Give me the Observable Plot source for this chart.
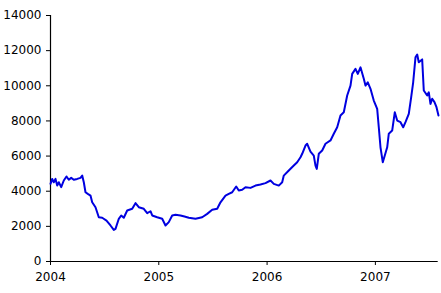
<!DOCTYPE html>
<html>
<head>
<meta charset="utf-8">
<script src="https://cdn.jsdelivr.net/npm/d3@7"></script>
<script src="https://cdn.jsdelivr.net/npm/@observablehq/plot@0.6"></script>
<style>
  html, body { margin: 0; padding: 0; background: #fff; }
</style>
</head>
<body>
<div id="chart"></div>
<script>
// time in decimal years
const times = [
  2004.0000, 2004.0157, 2004.0305, 2004.0462, 2004.0619, 2004.0766, 2004.0988, 2004.1228,
  2004.1477, 2004.1690, 2004.1911, 2004.2151, 2004.2465, 2004.2770, 2004.2927, 2004.3075,
  2004.3232, 2004.3444, 2004.3693, 2004.3850, 2004.4155, 2004.4460, 2004.4774, 2004.5171,
  2004.5540, 2004.5845, 2004.6002, 2004.6307, 2004.6528, 2004.6768, 2004.7082, 2004.7544,
  2004.7849, 2004.8153, 2004.8615, 2004.8929, 2004.9234, 2004.9391, 2004.9852, 2005.0314,
  2005.0619, 2005.0923, 2005.1237, 2005.1542, 2005.2004, 2005.2373, 2005.2770, 2005.3389,
  2005.4007, 2005.4469, 2005.4931, 2005.5392, 2005.5697, 2005.6159, 2005.6464, 2005.6777,
  2005.7147, 2005.7387, 2005.7701, 2005.8006, 2005.8468, 2005.8929, 2005.9391, 2005.9852,
  2006.0314, 2006.0619, 2006.1080, 2006.1394, 2006.1542, 2006.2004, 2006.2465, 2006.2779,
  2006.3084, 2006.3241, 2006.3546, 2006.3703, 2006.4007, 2006.4312, 2006.4469, 2006.4589,
  2006.4774, 2006.5088, 2006.5392, 2006.5854, 2006.6159, 2006.6473, 2006.6777, 2006.7082,
  2006.7396, 2006.7701, 2006.7858, 2006.8163, 2006.8375, 2006.8624, 2006.8929, 2006.9086,
  2006.9298, 2006.9548, 2006.9852, 2007.0166, 2007.0314, 2007.0471, 2007.0683, 2007.0868,
  2007.1090, 2007.1237, 2007.1551, 2007.1791, 2007.2013, 2007.2318, 2007.2567, 2007.2779,
  2007.3084, 2007.3306, 2007.3490, 2007.3703, 2007.3860, 2007.4008, 2007.4321, 2007.4469,
  2007.4783, 2007.4931, 2007.5088, 2007.5245, 2007.5457, 2007.5642, 2007.5826
];
const values = [
  4420, 4700, 4510, 4700, 4320, 4510, 4230, 4610,
  4840, 4650, 4760, 4650, 4700, 4760, 4890, 4510,
  3940, 3850, 3750, 3370, 3090, 2520, 2490, 2330,
  2050, 1800, 1860, 2430, 2620, 2490, 2900, 3000,
  3320, 3090, 3000, 2750, 2860, 2620, 2520, 2430,
  2050, 2240, 2620, 2660, 2620, 2560, 2490, 2430,
  2520, 2710, 2940, 3000, 3370, 3750, 3850, 3940,
  4270, 4040, 4080, 4230, 4190, 4320, 4380, 4460,
  4610, 4420, 4320, 4510, 4890, 5180, 5460, 5650,
  5930, 6130, 6600, 6700, 6250, 6030, 5460, 5270,
  6130, 6320, 6700, 6890, 7270, 7640, 8310, 8490,
  9450, 10010, 10680, 10960, 10680, 11050, 10400, 10010,
  10200, 9830, 9160, 8690, 7640, 6500, 5650, 6030,
  6500, 7270, 7450, 8490, 8020, 7930, 7640, 7930,
  8400, 9350, 10200, 11620, 11780, 11340, 11500, 9730,
  9450, 9630, 8970, 9260, 9070, 8780, 8310
];
const yTicks = [0, 2000, 4000, 6000, 8000, 10000, 12000, 14000];
const xTicks = [2004, 2005, 2006, 2007];

const data = times.map((t, i) => ({t, v: values[i]}));

const chart = Plot.plot({
  width: 441,
  height: 293,
  marginLeft: 50,
  marginRight: 3.3,
  marginTop: 15,
  marginBottom: 32,
  style: {fontFamily: "DejaVu Sans", fontSize: "12px", color: "#000", background: "#fff", overflow: "visible"},
  x: {domain: [2004, 2007.58], label: null},
  y: {domain: [0, 14000], label: null},
  marks: [
    Plot.axisY({ticks: yTicks, tickFormat: "d", tickSize: 4, tickPadding: 5, label: null, stroke: "#000"}),
    Plot.axisX({ticks: xTicks, tickFormat: "d", tickSize: 4, tickPadding: 7, label: null, stroke: "#000"}),
    Plot.ruleX([2004], {y1: 0, y2: 14000, stroke: "#000", strokeWidth: 1.2}),
    Plot.ruleY([0], {stroke: "#000", strokeWidth: 1.2}),
    Plot.line(data, {x: "t", y: "v", stroke: "#0000e0", strokeWidth: 2})
  ]
});
document.getElementById("chart").appendChild(chart);
</script>
</body>
</html>
